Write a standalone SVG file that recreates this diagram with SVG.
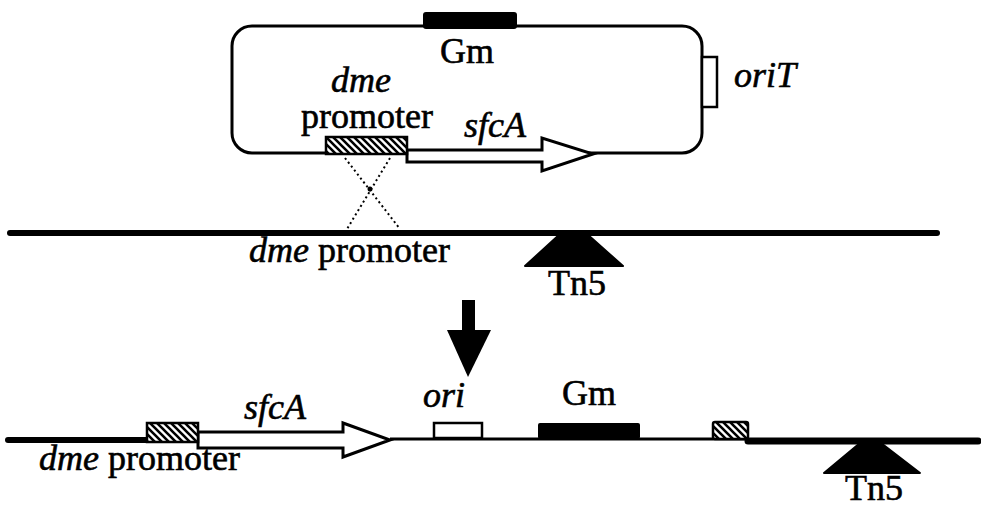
<svg xmlns="http://www.w3.org/2000/svg" width="981" height="506" viewBox="0 0 981 506">
  <style>
    .t { font-family: "Liberation Serif", "Times New Roman", serif; font-size: 36px; fill: #000; stroke: #000; stroke-width: 0.6; }
    .i { font-style: italic; }
    .box { fill: #fff; stroke: #000; stroke-width: 2.5; }
    .hatch { fill: url(#hatch); stroke: #000; stroke-width: 2.5; }
    .blk { fill: #000; }
    .garrow { fill: #fff; stroke: #000; stroke-width: 3; stroke-linejoin: miter; }
    .dna { stroke: #000; fill: none; stroke-linecap: round; }
    .dot { stroke: #000; stroke-width: 2; stroke-dasharray: 2 3; fill: none; }
  </style>
  <defs>
    <pattern id="hatch" patternUnits="userSpaceOnUse" width="7" height="7">
      <rect width="7" height="7" fill="#fff"/>
      <path d="M0,0 L7,7 M-3.5,3.5 L3.5,10.5 M3.5,-3.5 L10.5,3.5" stroke="#000" stroke-width="2.6"/>
    </pattern>
  </defs>
  <rect width="981" height="506" fill="#fff"/>

  <g id="plasmid">
    <rect x="232" y="26" width="470" height="127" rx="20" ry="20" fill="none" stroke="#000" stroke-width="3"/>
    <rect x="423" y="12" width="94" height="17" rx="3" class="blk"/>
    <text class="t" x="467" y="63" text-anchor="middle">Gm</text>
    <rect x="702" y="57" width="15" height="50" class="box"/>
    <text class="t i" x="734" y="87">oriT</text>
    <text class="t i" x="331" y="92">dme</text>
    <text class="t" x="301" y="128">promoter</text>
    <path d="M407,150 L542,150 L542,138 L593,154 L542,171 L542,162 L407,162 Z" class="garrow"/>
    <rect x="326" y="137" width="81" height="17" class="hatch"/>
    <text class="t i" x="464" y="137">sfcA</text>
  </g>

  <g id="chromosome">
    <line x1="10" y1="233" x2="937" y2="233" class="dna" stroke-width="6"/>
    <text class="t" x="249" y="262"><tspan class="i">dme</tspan> promoter</text>
    <polygon points="560,234 587,234 623,266 525,266" class="blk" stroke="#000" stroke-width="2" stroke-linejoin="round"/>
    <text class="t" x="577" y="295" text-anchor="middle">Tn5</text>
  </g>

  <g id="connectors">
    <line x1="345" y1="158" x2="400" y2="229" class="dot"/>
    <line x1="390" y1="158" x2="347" y2="229" class="dot"/>
    <circle cx="370" cy="189" r="2.5" class="blk"/>
    <rect x="462" y="300" width="13" height="32" class="blk"/>
    <polygon points="447,330 491,330 468,377" class="blk"/>
  </g>

  <g id="integrant">
    <line x1="8" y1="440" x2="147" y2="440" class="dna" stroke-width="6"/>
    <line x1="390" y1="439" x2="748" y2="439" stroke="#000" stroke-width="3"/>
    <line x1="748" y1="441" x2="978" y2="441" class="dna" stroke-width="7"/>
    <path d="M198,432 L343,432 L343,423 L390,440 L343,457 L343,448 L198,448 Z" class="garrow"/>
    <rect x="147" y="423" width="51" height="19" class="hatch"/>
    <text class="t i" x="244" y="419">sfcA</text>
    <text class="t" x="39" y="470"><tspan class="i">dme</tspan> promoter</text>
    <rect x="434" y="423" width="48" height="15" class="box"/>
    <text class="t i" x="423" y="407">ori</text>
    <rect x="538" y="423" width="102" height="16" rx="2" class="blk"/>
    <text class="t" x="589" y="405" text-anchor="middle">Gm</text>
    <rect x="713" y="422" width="35" height="17" rx="2" class="hatch"/>
    <polygon points="860,443 881,443 920,473 824,473" class="blk" stroke="#000" stroke-width="2" stroke-linejoin="round"/>
    <text class="t" x="874" y="500" text-anchor="middle">Tn5</text>
  </g>
</svg>
